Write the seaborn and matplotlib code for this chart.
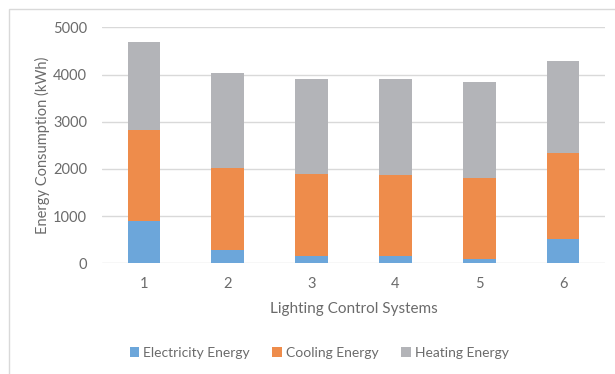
import matplotlib
matplotlib.use("Agg")
import matplotlib.pyplot as plt
from matplotlib.patches import Rectangle, Patch
import numpy as np
import pandas as pd
import seaborn as sns

# Energy use per lighting control system (kWh)
systems = ["1", "2", "3", "4", "5", "6"]
electricity = [900, 285, 165, 150, 95, 510]
cooling = [1915, 1728, 1721, 1712, 1710, 1825]
heating = [1870, 2012, 2020, 2038, 2032, 1941]
series_names = ["Electricity Energy", "Cooling Energy", "Heating Energy"]
colors = ["#6CA6DA", "#EE8C4B", "#B3B4B8"]
yticks = [0, 1000, 2000, 3000, 4000, 5000]

sns.set_theme(style="white")
plt.rcParams["font.family"] = ["Lato", "DejaVu Sans"]

df = pd.DataFrame({"system": systems, "electricity": electricity,
                   "cooling": cooling, "heating": heating})
df["cool_top"] = df["electricity"] + df["cooling"]
df["heat_top"] = df["cool_top"] + df["heating"]

fig = plt.figure(figsize=(6.15, 3.74), dpi=100)
ax = fig.add_axes([102 / 615, 1 - 263.3 / 374, (605 - 102) / 615, (263.3 - 27.3) / 374])

text_color = "#6b6b6b"
# stacked layers drawn back to front from cumulative totals
for col, c in zip(["heat_top", "cool_top", "electricity"], colors[::-1]):
    sns.barplot(data=df, x="system", y=col, color=c, width=0.39,
                saturation=1, ax=ax, zorder=3, edgecolor="none")

ax.set_ylim(0, 5000)
ax.set_xlim(-0.5, 5.5)
ax.set_yticks(yticks)
ax.set_yticklabels([str(t) for t in yticks])
ax.yaxis.grid(True, color="#D9D9D9", linewidth=1, zorder=0)
ax.set_axisbelow(True)
for s in ax.spines.values():
    s.set_visible(False)
ax.tick_params(axis="both", length=0, labelsize=10.5, colors=text_color)
ax.tick_params(axis="y", pad=10.8)
ax.tick_params(axis="x", pad=10)
ax.set_xlabel("Lighting Control Systems", fontsize=11, color=text_color, labelpad=8)
ax.set_ylabel("Energy Consumption (kWh)", fontsize=10.5, color=text_color, labelpad=2)

handles = [Patch(facecolor=c, edgecolor="none") for c in colors]
fig.legend(handles, series_names, loc="center", bbox_to_anchor=(0.519, 1 - 353 / 374),
           ncol=3, frameon=False, fontsize=10, handlelength=0.7, handleheight=0.7,
           handletextpad=0.3, columnspacing=1.6, labelcolor=text_color)

# chart area frame
fig.patches.append(Rectangle((9 / 615, -0.05), 1.2, 1 - 9 / 374 + 0.05,
                             transform=fig.transFigure, fill=False,
                             edgecolor="#D9D9D9", linewidth=1))

fig.savefig("out.png", dpi=100, facecolor="white")
